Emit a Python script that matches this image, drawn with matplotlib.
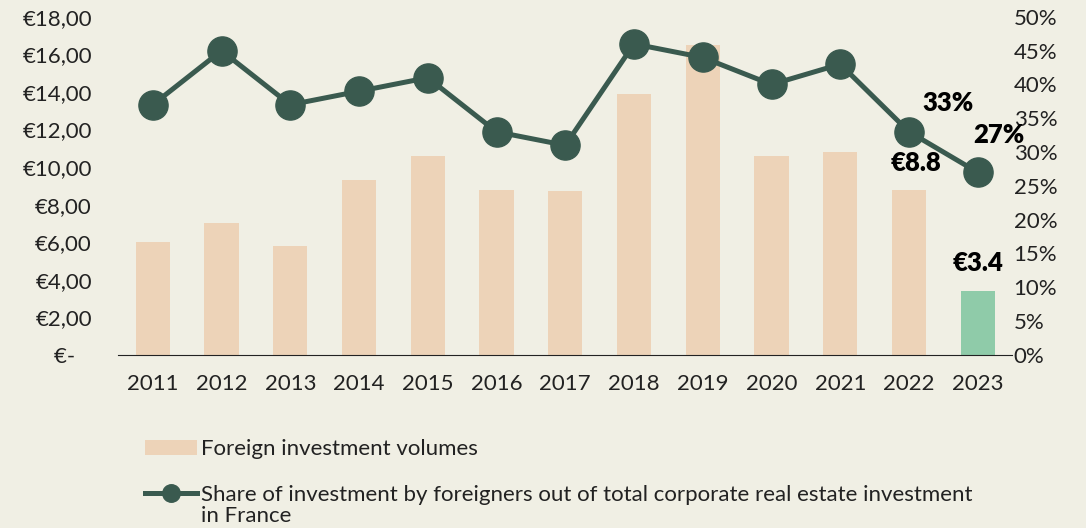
import matplotlib
matplotlib.use('Agg')
import matplotlib.pyplot as plt
from matplotlib.ticker import FuncFormatter, PercentFormatter

# Data
years = ['2011', '2012', '2013', '2014', '2015', '2016', '2017',
         '2018', '2019', '2020', '2021', '2022', '2023']
volumes = [6.0, 7.0, 5.8, 9.3, 10.6, 8.8, 8.7, 13.9, 16.5, 10.6, 10.8, 8.8, 3.4]
shares = [37, 45, 37, 39, 41, 33, 31, 46, 44, 40, 43, 33, 27]

bg = '#F0EFE4'
bar_col = '#EDD3B8'
last_col = '#8FCBA9'
line_col = '#3A5A4F'
txt_col = '#222222'

plt.rcParams['font.family'] = ['Lato', 'DejaVu Sans']

fig = plt.figure(figsize=(10.86, 5.28), dpi=100, facecolor=bg)
ax = fig.add_axes([0.109, 0.328, 0.823, 0.64])
ax.set_facecolor(bg)

x = range(len(years))
colors = [bar_col] * (len(years) - 1) + [last_col]
bars = ax.bar(x, volumes, width=0.5, color=colors, zorder=2)
ax.set_ylim(0, 18)
ax.set_yticks(range(0, 19, 2))
ax.yaxis.set_major_formatter(FuncFormatter(
    lambda v, p: '€-   ' if v == 0 else '€{:.2f}'.format(v).replace('.', ',')))
ax.set_xlim(-0.5, len(years) - 0.5)
ax.set_xticks(list(x))
ax.set_xticklabels(years)
for s in ['top', 'right', 'left']:
    ax.spines[s].set_visible(False)
ax.spines['bottom'].set_color(txt_col)
ax.tick_params(length=0, labelsize=16, colors=txt_col)
ax.tick_params(axis='x', pad=14)
ax.tick_params(axis='y', pad=19)

ax2 = ax.twinx()
ax2.set_ylim(0, 50)
ax2.set_yticks(range(0, 51, 5))
ax2.yaxis.set_major_formatter(PercentFormatter(decimals=0))
for s in ax2.spines.values():
    s.set_visible(False)
ax2.tick_params(length=0, labelsize=16, colors=txt_col, pad=1)
line, = ax2.plot(list(x), shares, '-o', color=line_col, lw=3.6, markersize=21, zorder=3)

# labels on last points / bars
lbl = dict(textcoords='offset points', ha='center', va='center',
           fontsize=18.5, fontweight='heavy', color='black')
ax2.annotate('{}%'.format(shares[-2]), (11, shares[-2]), xytext=(28, 21), **lbl)
ax2.annotate('{}%'.format(shares[-1]), (12, shares[-1]), xytext=(15, 27), **lbl)
ax.annotate('€{}'.format(volumes[-2]), (11, volumes[-2]), xytext=(5, 19), **lbl)
ax.annotate('€{}'.format(volumes[-1]), (12, volumes[-1]), xytext=(0, 20), **lbl)

leg = fig.legend([bars[0], line],
                 ['Foreign investment volumes',
                  'Share of investment by foreigners out of total corporate real estate investment'],
                 loc='upper left', bbox_to_anchor=(0.125, 0.185), frameon=False,
                 fontsize=16, handlelength=2.35, handletextpad=0.2, labelspacing=1.17,
                 borderaxespad=0, markerscale=0.6)
for t in leg.get_texts():
    t.set_color(txt_col)

# second line of the wrapped legend label, placed under the first
fig.canvas.draw()
bb = leg.get_texts()[1].get_window_extent().transformed(fig.transFigure.inverted())
fig.text(bb.x0, bb.y0 - 0.002, 'in France', ha='left', va='top',
         fontsize=16, color=txt_col)

fig.savefig('out.png', dpi=100, facecolor=bg)
